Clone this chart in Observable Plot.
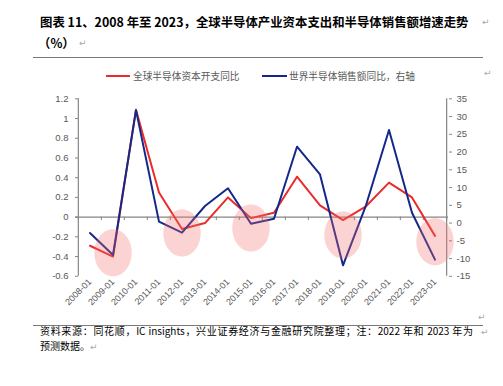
<!DOCTYPE html>
<html><head><meta charset="utf-8">
<script src="https://cdn.jsdelivr.net/npm/d3@7"></script>
<script src="https://cdn.jsdelivr.net/npm/@observablehq/plot@0.6"></script>
<style>
body{margin:0;background:#fff;width:503px;height:386px;position:relative;overflow:hidden;font-family:"Noto Sans CJK SC",sans-serif;}
.abs{position:absolute;white-space:nowrap;}
.title{font-size:12.4px;font-weight:bold;color:#000;line-height:16px;}
.ret{font-family:"DejaVu Sans",sans-serif;font-size:9px;color:#a8a8a8;line-height:10px;}
.rule{position:absolute;left:33px;width:450px;height:1.5px;background:#7a7a7a;}
.lg{font-size:9.7px;color:#595959;line-height:12px;}
.sw{position:absolute;height:2.5px;}
.foot{font-size:10px;color:#000;line-height:12px;}
#chart{position:absolute;left:0;top:60px;}
</style></head>
<body>
<div class="abs title" style="left:40px;top:14px;">图表 11、2008 年至 2023，全球半导体产业资本支出和半导体销售额增速走势</div>
<div class="abs ret" style="left:482px;top:17px;">↵</div>
<div class="abs title" style="left:38px;top:35px;">（%）</div>
<div class="abs ret" style="left:79px;top:38px;">↵</div>
<div class="rule" style="top:56.5px;"></div>
<div id="chart"></div>
<div class="abs ret" style="left:484px;top:68px;">↵</div>
<div class="sw" style="left:106px;top:74.5px;width:24px;background:#eb2b2b;"></div>
<div class="abs lg" style="left:133px;top:69.5px;" id="lg1"></div>
<div class="sw" style="left:262px;top:74.5px;width:25px;background:#14288a;"></div>
<div class="abs lg" style="left:289px;top:69.5px;" id="lg2"></div>
<div class="abs ret" style="left:478px;top:312px;">↵</div>
<div class="rule" style="top:324.5px;"></div>
<div class="abs foot" style="left:40px;top:325px;width:433px;text-align:justify;text-align-last:justify;">资料来源：同花顺，IC insights，兴业证券经济与金融研究院整理；注：2022 年和 2023 年为</div>
<div class="abs ret" style="left:481px;top:327px;">↵</div>
<div class="abs foot" style="left:40px;top:340px;">预测数据。<span class="ret">↵</span></div>
<script>
// ---- data ----
const categories = ["2008-01","2009-01","2010-01","2011-01","2012-01","2013-01","2014-01","2015-01","2016-01","2017-01","2018-01","2019-01","2020-01","2021-01","2022-01","2023-01"];
const capexYoY = [-0.29,-0.40,1.09,0.25,-0.12,-0.06,0.20,-0.01,0.045,0.41,0.12,-0.03,0.11,0.35,0.20,-0.19];
const salesYoY = [-2.8,-9.0,31.8,0.4,-2.7,4.8,9.8,-0.2,1.2,21.5,13.7,-11.9,5.0,26.2,2.9,-10.3];
const leftTicks = [-0.6,-0.4,-0.2,0,0.2,0.4,0.6,0.8,1,1.2];
const rightTicks = [-15,-10,-5,0,5,10,15,20,25,30,35];
const seriesNames = ["全球半导体资本开支同比","世界半导体销售额同比，右轴"];
const highlightYears = ["2009-01","2012-01","2015-01","2019-01","2023-01"];
const highlightCenters = [-0.36,-0.16,-0.11,-0.18,-0.25];

document.getElementById("lg1").textContent = seriesNames[0];
document.getElementById("lg2").textContent = seriesNames[1];

const W = 503, H = 262, mL = 75, mR = 55, mT = 38.3, mB = 46.2;
const bw = (W - mL - mR) / categories.length;
const leftDom = [leftTicks[0], leftTicks[leftTicks.length-1]];
const rightDom = [rightTicks[0], rightTicks[rightTicks.length-1]];
const toLeft = v => (v - rightDom[0]) / (rightDom[1]-rightDom[0]) * (leftDom[1]-leftDom[0]) + leftDom[0];
const fromLeft = y => (y - leftDom[0]) / (leftDom[1]-leftDom[0]) * (rightDom[1]-rightDom[0]) + rightDom[0];

const rows = categories.map((c,i)=>({c, capex: capexYoY[i], sales: toLeft(salesYoY[i])}));
const hl = highlightYears.map((c,i)=>({c, y: highlightCenters[i]}));

const k = 0.5523;
const ellipse = {draw(ctx){ const rx=18.7, ry=23.5;
  ctx.moveTo(rx,0);
  ctx.bezierCurveTo(rx, ry*k, rx*k, ry, 0, ry);
  ctx.bezierCurveTo(-rx*k, ry, -rx, ry*k, -rx, 0);
  ctx.bezierCurveTo(-rx, -ry*k, -rx*k, -ry, 0, -ry);
  ctx.bezierCurveTo(rx*k, -ry, rx, -ry*k, rx, 0);
  ctx.closePath(); }};

const fmtL = d => String(+d.toFixed(1));
const axisColor = "#868686";

const chart = Plot.plot({
  width: W, height: H, marginLeft: mL, marginRight: mR, marginTop: mT, marginBottom: mB,
  x: {type: "band", domain: categories, padding: 0, axis: null},
  y: {domain: leftDom, axis: null},
  style: {fontFamily: "'Liberation Sans', 'Noto Sans CJK SC', sans-serif", fontSize: "9.5px", color: "#595959", background: "transparent"},
  marks: [
    Plot.ruleY([0], {stroke: axisColor, strokeWidth: 1.3}),
    Plot.ruleX(categories, {x: d => d, y1: 0, y2: -0.035, dx: -bw/2, stroke: axisColor}),
    Plot.ruleX([categories[categories.length-1]], {x: d => d, y1: 0, y2: -0.035, dx: bw/2, stroke: axisColor}),
    Plot.ruleX([categories[0]], {x: d => d, y1: leftDom[0], y2: leftDom[1], dx: -bw/2, stroke: axisColor, strokeWidth: 1.2}),
    Plot.ruleX([categories[categories.length-1]], {x: d => d, y1: leftDom[0], y2: leftDom[1], dx: bw/2, stroke: axisColor, strokeWidth: 1.2}),
    Plot.axisY({anchor: "left", ticks: leftTicks, tickSize: 0, tickPadding: 7, tickFormat: fmtL, fill: "#595959", label: null}),
    Plot.axisY({anchor: "left", ticks: leftTicks, tickSize: 3, dx: 3, tickPadding: 0, tickFormat: () => "", stroke: axisColor, label: null}),
    Plot.axisY({anchor: "right", ticks: rightTicks.map(toLeft), tickSize: 3, tickPadding: 5, tickFormat: d => String(Math.round(fromLeft(d))), stroke: axisColor, fill: "#595959", label: null}),
    Plot.axisX({anchor: "bottom", tickSize: 0, tickPadding: 4, tickRotate: -45, fill: "#595959", fontSize: 9, label: null}),
    Plot.line(rows, {x: "c", y: "capex", stroke: "#eb2b2b", strokeWidth: 2}),
    Plot.line(rows, {x: "c", y: "sales", stroke: "#14288a", strokeWidth: 2}),
    Plot.dot(hl, {x: "c", y: "y", r: 10, symbol: ellipse, fill: "rgb(245,110,110)", fillOpacity: 0.3, stroke: null})
  ]
});
document.getElementById("chart").appendChild(chart);
</script>
</body></html>
